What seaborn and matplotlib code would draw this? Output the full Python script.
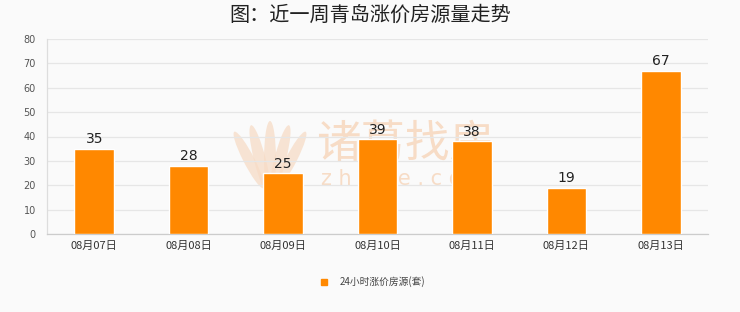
import matplotlib
matplotlib.use("Agg")
import matplotlib.pyplot as plt
import seaborn as sns
import pandas as pd
from matplotlib.lines import Line2D
from matplotlib.patches import Ellipse

dates = ["08月07日", "08月08日", "08月09日", "08月10日", "08月11日", "08月12日", "08月13日"]
counts = [35, 28, 25, 39, 38, 19, 67]
series_name = "24小时涨价房源(套)"
title = "图：近一周青岛涨价房源量走势"
brand = "诸葛找房"
brand_url = "z h u g e . c o m"

sns.set_theme(style="white")
plt.rcParams["font.family"] = ["Noto Sans CJK SC", "DejaVu Sans"]

bar_color = "#ff8800"
bg = "#fafafa"
mark_color = "#f7dcc6"

df = pd.DataFrame({"date": dates, "count": counts})

fig = plt.figure(figsize=(7.4, 3.12), dpi=100, facecolor=bg)
ax = fig.add_axes([47 / 740, 1 - 234 / 312, 661 / 740, 195 / 312], zorder=1)
ax.patch.set_alpha(0)

# faint brand watermark sitting behind the bars
W, H = 740, 312
for dx, h, ang in [(-21, 58, 12), (-10, 70, 6), (0, 78, 0), (10, 70, -6), (21, 58, -12)]:
    fig.add_artist(Ellipse(((270 + dx) / W, 1 - 160 / H), 12 / W, h / H, angle=ang,
                           transform=fig.transFigure, facecolor=mark_color,
                           edgecolor="none", alpha=0.75, zorder=0))
fig.text(405 / W, 1 - 144 / H, brand, ha="center", va="center", fontsize=32,
         color=mark_color, zorder=0)
fig.text(405 / W, 1 - 179 / H, brand_url, ha="center", va="center", fontsize=15,
         color=mark_color, family="DejaVu Sans", zorder=0)

sns.barplot(data=df, x="date", y="count", color=bar_color, saturation=1,
            width=0.42, ax=ax, zorder=3)

for p, v in zip(ax.patches, counts):
    ax.text(p.get_x() + p.get_width() / 2, v + 1.0, str(v),
            ha="center", va="bottom", fontsize=10, color="#222222",
            family="DejaVu Sans", zorder=4)

ax.set_ylim(0, 80)
ax.set_yticks(range(0, 81, 10))
ax.yaxis.grid(True, color="#e6e6e6", linewidth=0.9, zorder=0)
ax.set_axisbelow(True)
ax.set_xlabel("")
ax.set_ylabel("")
ax.tick_params(axis="y", labelsize=7, colors="#555555", length=0, pad=8)
ax.tick_params(axis="x", labelsize=8, colors="#333333", length=0, pad=5)
for lbl in ax.get_yticklabels():
    lbl.set_family("DejaVu Sans")

for side in ["top", "right"]:
    ax.spines[side].set_visible(False)
ax.spines["left"].set_color("#dddddd")
ax.spines["bottom"].set_color("#cccccc")
ax.spines["left"].set_linewidth(0.9)
ax.spines["bottom"].set_linewidth(0.9)

fig.text(0.5, 1 - 15 / H, title, ha="center", va="center",
         fontsize=14.5, color="#222222", fontweight="medium")

handle = Line2D([], [], marker="s", linestyle="none", markersize=5,
                markerfacecolor=bar_color, markeredgecolor=bar_color)
fig.legend([handle], [series_name], loc="center",
           bbox_to_anchor=(0.5, 1 - 282 / H), frameon=False,
           fontsize=7, handletextpad=0.6, labelcolor="#444444")

fig.savefig("out.png", dpi=100, facecolor=bg)
